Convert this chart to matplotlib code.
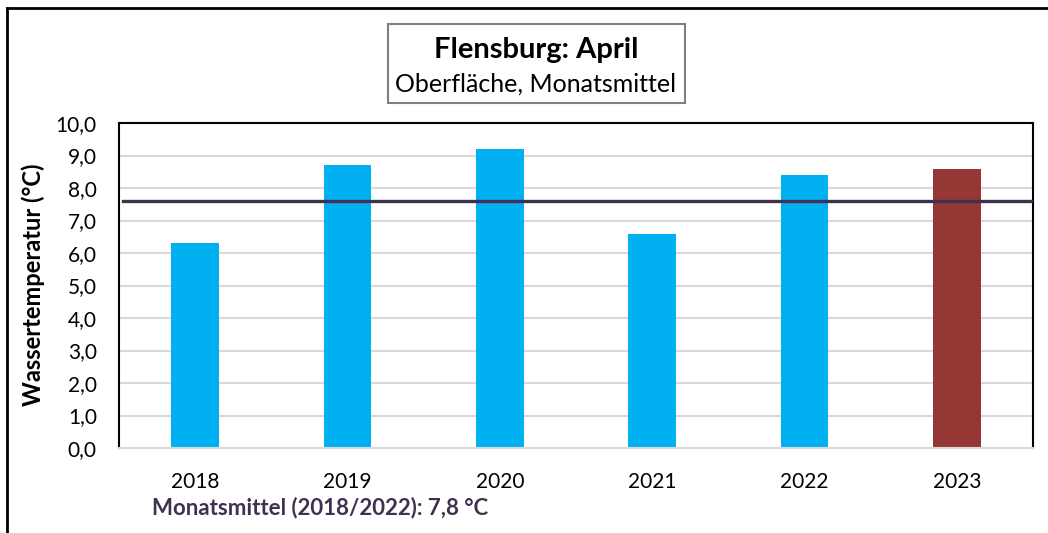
import matplotlib
matplotlib.use('Agg')
import matplotlib.pyplot as plt
from matplotlib.patches import Rectangle
from matplotlib.lines import Line2D
from matplotlib.ticker import FuncFormatter

plt.rcParams['font.family'] = ['Lato', 'DejaVu Sans']

# Data
years = ['2018', '2019', '2020', '2021', '2022', '2023']
temps = [6.3, 8.7, 9.2, 6.6, 8.4, 8.6]
bar_colors = ['#00b0f0'] * 5 + ['#953735']
mean_value = 7.6
title = 'Flensburg: April'
subtitle = 'Oberfläche, Monatsmittel'
mean_note = 'Monatsmittel (2018/2022): 7,8 °C'

W, H = 1048, 533
fig = plt.figure(figsize=(W / 100, H / 100), dpi=100)


def fx(x):
    return x / W


def fy(y):
    return 1 - y / H


ax = fig.add_axes([fx(119), fy(448), fx(1033) - fx(119), fy(123) - fy(448)])

x = range(len(years))
ax.bar(x, temps, width=0.315, color=bar_colors, zorder=2)
ax.axhline(mean_value, xmin=0.004, xmax=0.998, color='#403151', lw=2.4, zorder=3)

ax.set_xlim(-0.5, len(years) - 0.5)
ax.set_ylim(0, 10)
ax.set_yticks(range(0, 11))
ax.yaxis.set_major_formatter(FuncFormatter(lambda v, p: f'{v:.1f}'.replace('.', ',')))
ax.set_xticks(list(x))
ax.set_xticklabels(years)
ax.tick_params(length=0, labelsize=15, colors='#000000')
ax.tick_params(axis='x', pad=17)
ax.tick_params(axis='y', pad=16)
ax.grid(axis='y', color='#d9d9d9', lw=1.5, zorder=0)
ax.set_axisbelow(True)
for s in ['left', 'top', 'right']:
    ax.spines[s].set_linewidth(1.5)
    ax.spines[s].set_color('black')
ax.spines['bottom'].set_color('#d9d9d9')
ax.spines['bottom'].set_linewidth(1.5)

fig.text(fx(33), fy(285), 'Wassertemperatur (°C)', rotation=90, ha='center', va='center',
         fontsize=17, fontweight='bold')

# Title box
fig.patches.append(Rectangle((fx(388), fy(103)), fx(685) - fx(388), fy(24) - fy(103),
                             transform=fig.transFigure, fill=False, edgecolor='#808080', lw=1.5))
fig.text(fx(536), fy(50), title, ha='center', va='center', fontsize=21, fontweight='bold')
fig.text(fx(536), fy(84), subtitle, ha='center', va='center', fontsize=18)

fig.text(fx(152), fy(508), mean_note, ha='left', va='center', fontsize=16,
         fontweight='bold', color='#403151')

# Outer frame (partially visible)
fig.lines.append(Line2D([fx(7), 1], [fy(8), fy(8)], transform=fig.transFigure, color='black', lw=2))
fig.lines.append(Line2D([fx(7), fx(7)], [fy(8), 0], transform=fig.transFigure, color='black', lw=2))

fig.savefig('out.png', dpi=100)
